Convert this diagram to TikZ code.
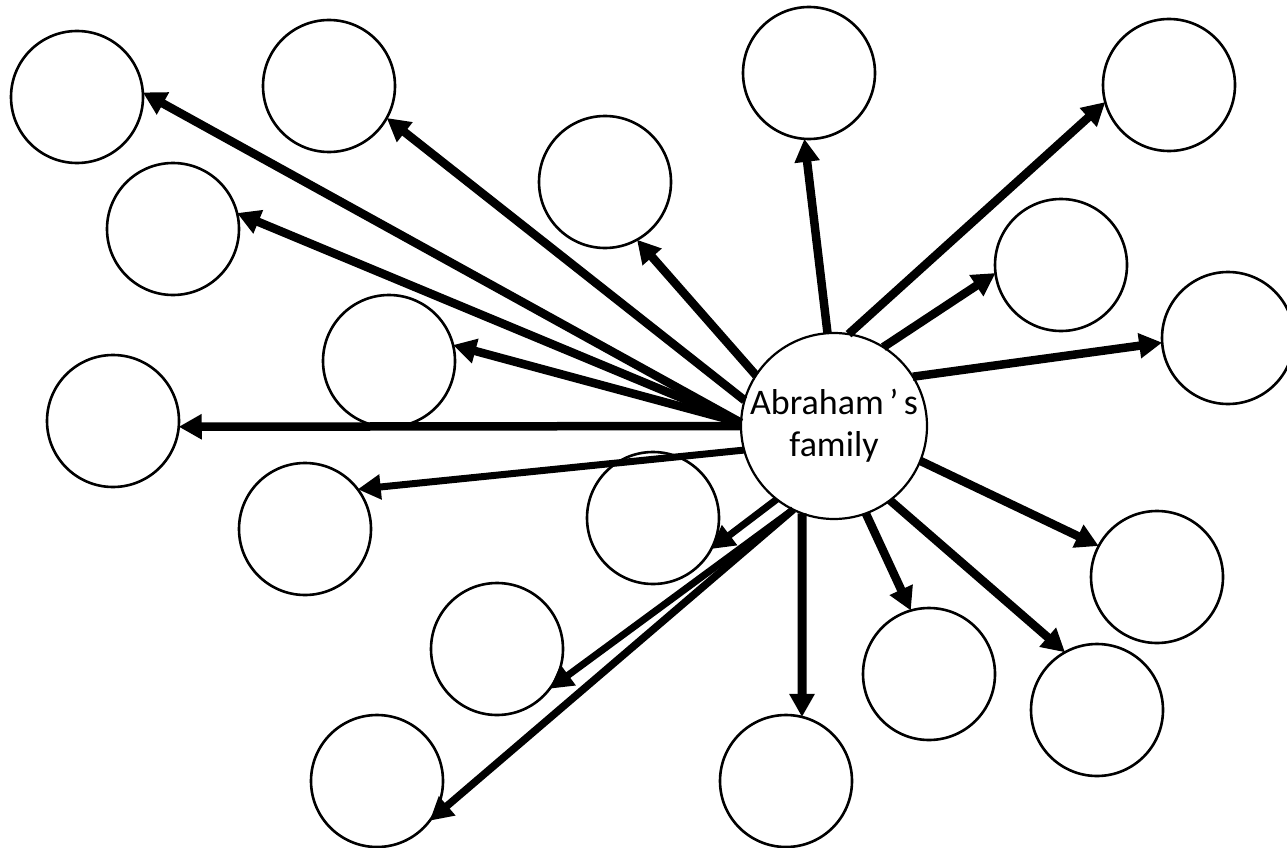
\documentclass[tikz,border=0pt]{standalone}
\usepackage{fontspec}
\setmainfont{Carlito}
\usetikzlibrary{arrows.meta}
\begin{document}
\begin{tikzpicture}[x=1pt,y=-1pt,
  leaf/.style={circle,draw,line width=2.6pt,minimum size=132pt,inner sep=0pt,outer sep=0pt},
  hub/.style={circle,draw,line width=2.2pt,minimum size=186pt,inner sep=0pt,outer sep=0pt,align=center,font=\fontsize{36}{42}\selectfont},
  link/.style={line width=8.5pt,-{Triangle[length=23pt,width=24pt]}},
]
\useasboundingbox (0,0) rectangle (1287,848);
\fill[white] (0,0) rectangle (1287,848);

\node[hub] (abr) at (834,426) {Abraham\makebox[20pt]{’}s\\family};

\node[leaf] (c1) at (77,97) {};
\node[leaf] (c2) at (329,86) {};
\node[leaf] (c3) at (809,73) {};
\node[leaf] (c4) at (1169,85) {};
\node[leaf] (c5) at (605,182) {};
\node[leaf] (c6) at (173,229) {};
\node[leaf] (c7) at (1061,265) {};
\node[leaf] (c8) at (1228,338) {};
\node[leaf] (c9) at (389,361) {};
\node[leaf] (c10) at (113,421) {};
\node[leaf] (c11) at (305,529) {};
\node[leaf] (c12) at (653,518) {};
\node[leaf] (c13) at (497,649) {};
\node[leaf] (c14) at (377,781) {};
\node[leaf] (c15) at (786,781) {};
\node[leaf] (c16) at (929,674) {};
\node[leaf] (c17) at (1097,710) {};
\node[leaf] (c18) at (1157,577) {};

\draw[link] (abr.178) -- (c1.4);
\draw[link] (abr.164) -- (c2.331);
\draw[link] (abr.178) -- (c6.14);
\draw[link] (abr.147) -- (c5.299);
\draw[link] (abr.178) -- (c9.14);
\draw[link] (abr.180) -- (c10.355);
\draw[link,line width=7pt] (abr.195) -- (c11.37);
\draw[link,line width=7pt] (abr.232) -- (c12.332);
\draw[link,line width=7pt] (abr.244) -- (c13.323);
\draw[link,line width=7.5pt] (abr.244) -- (c14.323);
\draw[link,line width=9pt] (abr.250) -- (c15.76);
\draw[link] (abr.290) -- (c16.106);
\draw[link] (abr.307) -- (c17.119);
\draw[link] (abr.338) -- (c18.152);
\draw[link] (abr.32) -- (c8.184);
\draw[link] (abr.58) -- (c7.187);
\draw[link] (abr.81) -- (c4.195);
\draw[link] (abr.94) -- (c3.266);
\end{tikzpicture}
\end{document}
